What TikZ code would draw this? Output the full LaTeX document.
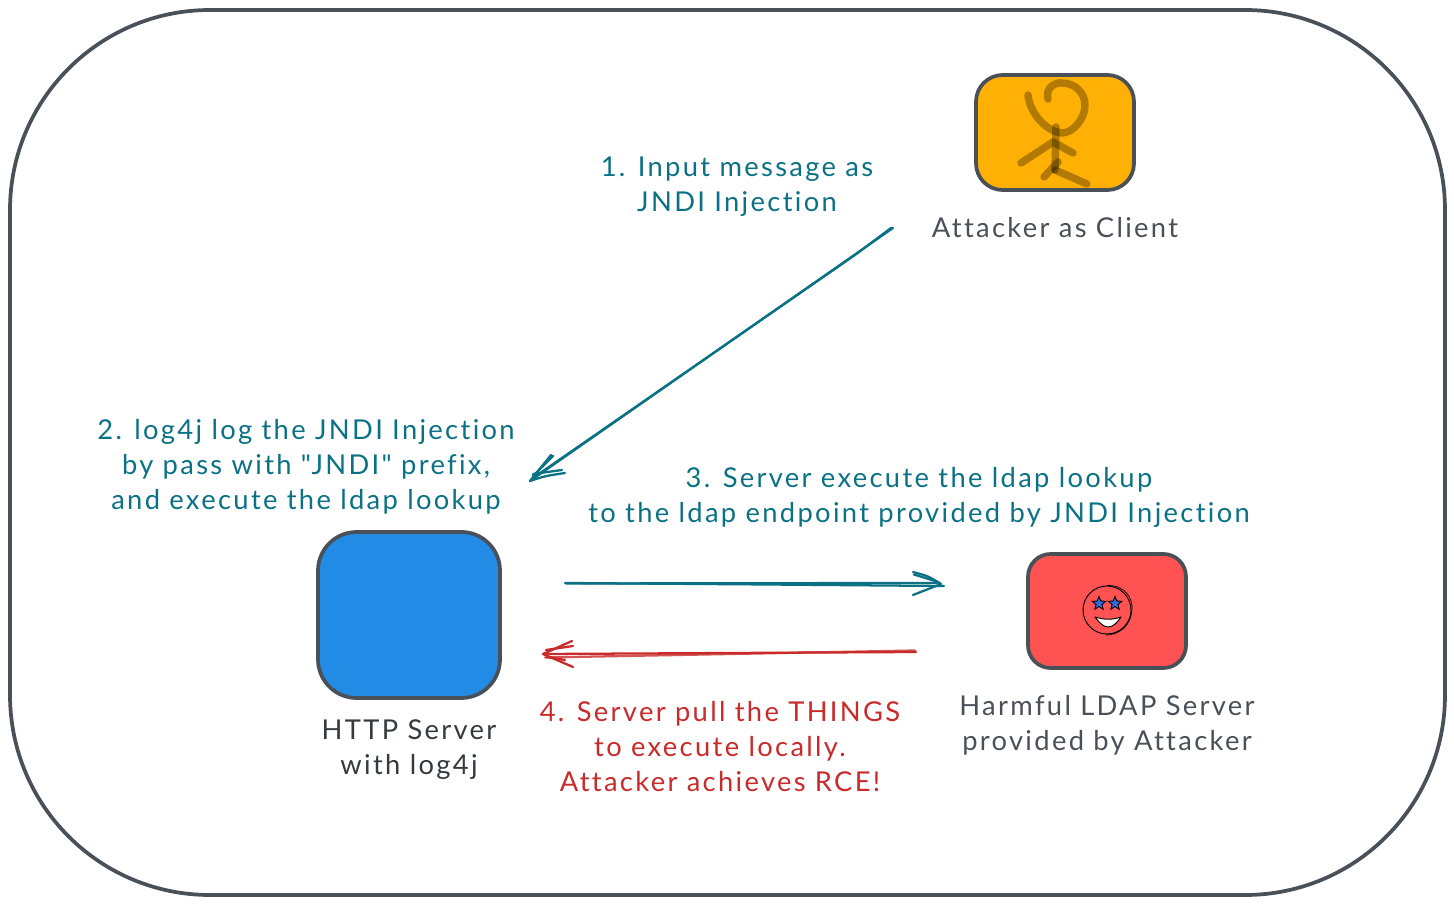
\documentclass[tikz,border=0pt]{standalone}
\usepackage{fontspec}
\setmainfont[LetterSpace=8.5,Ligatures={TeXOff,NoCommon}]{Lato}
\usetikzlibrary{shapes.geometric}
\definecolor{frame}{HTML}{495057}
\definecolor{ink}{HTML}{343A40}
\definecolor{teal}{HTML}{0B7285}
\definecolor{crim}{HTML}{C92A2A}
\definecolor{amber}{HTML}{FFB005}
\definecolor{sky}{HTML}{228BE6}
\definecolor{coral}{HTML}{FF5252}
\definecolor{starblue}{HTML}{2F6FE8}
\tikzset{
  x=0.75pt,y=-0.75pt,
  box/.style={draw=frame,line width=2.8pt,line join=round},
  lbl/.style={align=center,inner sep=0pt,font=\fontsize{20.5}{26.25}\selectfont},
  sketch/.style={line width=1.7pt,line cap=round,line join=round},
  figure stroke/.style={line width=5.6pt,line cap=round,line join=round,draw=black,draw opacity=.3},
}
\begin{document}
\begin{tikzpicture}
\useasboundingbox (0,0) rectangle (1454,905);
% outer frame
\node[box,minimum width=1435*0.75pt,minimum height=885*0.75pt,rounded corners=150pt,inner sep=0pt] (frame) at (727.5,452.5) {};

% boxes
\node[box,fill=amber,minimum width=158*0.75pt,minimum height=115*0.75pt,rounded corners=20pt,inner sep=0pt] (attacker) at (1055,132.5) {};
\node[box,fill=sky,minimum width=182*0.75pt,minimum height=166*0.75pt,rounded corners=29pt,inner sep=0pt] (http) at (409,615) {};
\node[box,fill=coral,minimum width=158*0.75pt,minimum height=114*0.75pt,rounded corners=17pt,inner sep=0pt] (ldap) at (1107,611) {};

% stick figure
\draw[figure stroke] (1048,99) .. controls (1045,88) and (1055,82) .. (1062,83)
  .. controls (1075,83) and (1085,93) .. (1085,105)
  .. controls (1085,120) and (1072,133) .. (1062,133)
  .. controls (1048,132) and (1030,115) .. (1028,95);
\draw[figure stroke] (1056,127) -- (1055,170);
\draw[figure stroke] (1021,163) -- (1053,142) -- (1073,153);
\draw[figure stroke] (1058,162) -- (1044,177);
\draw[figure stroke] (1055,170) -- (1087,184);

% smiley
\node[circle,draw=black,line width=.7pt,minimum size=48*0.75pt,inner sep=0pt] (face) at (1107,610) {};
\draw[black,line width=.5pt] (1107,585.5) .. controls (1125,585) and (1133,598) .. (1132,610) .. controls (1131,625) and (1120,635) .. (1106,635);
\node[star,star points=5,star point ratio=2.3,draw=black,fill=starblue,line width=.7pt,minimum size=14*0.75pt,inner sep=0pt] (eyeL) at (1099,603.5) {};
\node[star,star points=5,star point ratio=2.3,draw=black,fill=starblue,line width=.7pt,minimum size=14*0.75pt,inner sep=0pt] (eyeR) at (1115,603.5) {};
\coordinate (smileL) at (1095,617);
\coordinate (smileR) at (1121,617);
\draw[black,line width=.7pt,fill=white,line join=round] (smileL) .. controls (1105,620) and (1112,620) .. (smileR) .. controls (1117,623) and (1113,627) .. (1108,627) .. controls (1103,627) and (1099,622) .. (smileL) -- cycle;

% labels
\node[lbl,text=teal] (t1) at (737,187) {1. Input message as\\JNDI Injection};
\node[lbl,text=frame] (t2) at (1055,228) {Attacker as Client};
\node[lbl,text=teal] (t3) at (306,467) {2. log4j log the JNDI Injection\\by pass with "JNDI" prefix,\\and execute the ldap lookup};
\node[lbl,text=teal] (t4) at (919,497) {3. Server execute the ldap lookup\\to the ldap endpoint provided by JNDI Injection};
\node[lbl,text=ink] (t5) at (409,750) {HTTP Server\\with log4j};
\node[lbl,text=frame] (t6) at (1107,725) {Harmful LDAP Server\\provided by Attacker};
\node[lbl,text=crim] (t7) at (720,747) {4. Server pull the THINGS\\to execute locally.\\Attacker achieves RCE!};

% arrow 1
\coordinate (a1s) at (893,228);
\coordinate (a1e) at (530,481);
\coordinate (a1b) at (551,455);
\coordinate (a1c) at (565,473);
\draw[teal,sketch] (a1s) -- (a1e);
\draw[teal,sketch] (891,228) -- (855,255) -- (533,478);
\draw[teal,sketch] (a1e) -- (a1b);
\draw[teal,sketch] (533,476) -- (553,456);
\draw[teal,sketch] (a1e) .. controls (545,476) .. (565,473);
\draw[teal,sketch] (533,474) -- (562,470);

% arrow 2
\coordinate (a2s) at (565,583);
\coordinate (a2e) at (944,586);
\draw[teal,sketch] (a2s) -- (756,584.4) -- (a2e);
\draw[teal,sketch] (566,583.5) -- (756,583.2) -- (940,583);
\draw[teal,sketch] (913,572) .. controls (928,576) .. (941,584) -- (913,595);
\draw[teal,sketch] (914,574.5) -- (938,582);

% arrow 3
\coordinate (a3s) at (916,652);
\coordinate (a3e) at (543,654);
\draw[crim,sketch] (a3s) -- (a3e);
\draw[crim,sketch,draw opacity=.8] (915,650.5) -- (545,657.5);
\draw[crim,sketch] (572,641) -- (a3e) -- (573,667);
\draw[crim,sketch] (573,646) -- (546,650);
\draw[crim,sketch] (547,657) -- (565,660);
\end{tikzpicture}
\end{document}
